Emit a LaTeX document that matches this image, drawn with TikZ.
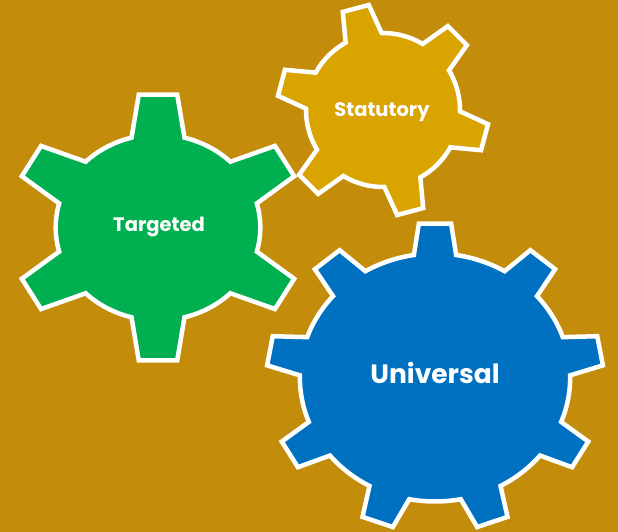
\documentclass[tikz,border=0pt]{standalone}
\usepackage{fontspec}
\setmainfont{Poppins}
\definecolor{myBg}{HTML}{C38C0A}
\definecolor{myGreen}{HTML}{00B050}
\definecolor{myGold}{HTML}{D9A300}
\definecolor{myBlue}{HTML}{0070C0}

\begin{document}
\begin{tikzpicture}[x=1pt, y=1pt]
	\tikzset{GearStyle/.style = {draw=white, line width=4.5pt}}
	\tikzset{LabelStyle/.style = {text=white, font=\bfseries\fontsize{19.5}{22}\selectfont}}
	
	% Hintergrund
	\fill[myBg] (0,0) rectangle (618,532);
	\useasboundingbox (0,0) rectangle (618,532);
	
	% Zahnraeder
	\begin{scope}[shift={(158,304.5)}, xscale=1.1]
		\filldraw[GearStyle, fill=myGreen] (75:93)
		\foreach \a in {90,150,...,390} {
			-- (\a-7.5:134) -- (\a+7.5:134) -- (\a+15:93)
			arc[start angle=\a+15, end angle=\a+45, radius=93]
		} -- cycle;
	\end{scope}
	\begin{scope}[shift={(383,422)}]
		\filldraw[GearStyle, fill=myGold] (91:77)
		\foreach \a in {105,165,...,405} {
			-- (\a-7.3:106) -- (\a+7.3:106) -- (\a+14:77)
			arc[start angle=\a+14, end angle=\a+46, radius=77]
		} -- cycle;
	\end{scope}
	\begin{scope}[shift={(435,154.5)}, xscale=1.09]
		\filldraw[GearStyle, fill=myBlue] (81:124)
		\foreach \a in {90,130,...,410} {
			-- (\a-5.5:154.5) -- (\a+5.5:154.5) -- (\a+9:124)
			arc[start angle=\a+9, end angle=\a+31, radius=124]
		} -- cycle;
	\end{scope}
	
	% Beschriftung
	\node[LabelStyle] (targeted) at (159,305) {Targeted};
	\node[LabelStyle] (statutory) at (382,420) {Statutory};
	\node[LabelStyle, font=\bfseries\fontsize{26.5}{30}\selectfont] (universal) at (435,159) {Universal};
	
\end{tikzpicture}
\end{document}
